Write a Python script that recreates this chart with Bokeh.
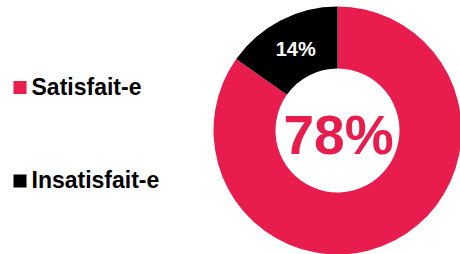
import numpy as np
from bokeh.plotting import figure
from bokeh.models import Range1d, ColumnDataSource
from bokeh.core.properties import value
from bokeh.embed import file_html
from bokeh.resources import INLINE

categories = ["Satisfait-e", "Insatisfait-e"]
values = [78, 14]
colors = ["#E81D4E", "#000000"]
center_label = "78%"

W, H = 460, 254
p = figure(width=W, height=H, output_backend="svg", toolbar_location=None,
           x_range=Range1d(0, W), y_range=Range1d(0, H),
           min_border=0, outline_line_color=None)
p.axis.visible = False
p.grid.visible = False
p.background_fill_color = "white"
p.border_fill_color = "white"

cx, cy = 337, 124
r_in, r_out = 62, 124

vals = np.array(values, dtype=float)
frac = vals / vals.sum()
start_black = np.pi / 2
end_black = start_black + frac[1] * 2 * np.pi
start_pink = end_black
end_pink = np.pi / 2 + 2 * np.pi

src = ColumnDataSource(dict(start=[start_pink, start_black], end=[end_pink, end_black],
                            color=colors))
p.annular_wedge(x=cx, y=cy, inner_radius=r_in, outer_radius=r_out,
                start_angle="start", end_angle="end", color="color",
                line_color=None, source=src)

mid = (start_black + end_black) / 2
rl = (r_in + r_out) / 2
p.text(x=[cx + rl * np.cos(mid) + 1], y=[cy + rl * np.sin(mid) - 1.5], text=[f"{values[1]}%"],
       text_color="white", text_font=value("Liberation Sans"), text_font_style="bold",
       text_font_size="20px", text_align="center", text_baseline="middle")

p.text(x=[cx + 1], y=[cy - 4.5], text=[center_label], text_color=colors[0],
       text_font=value("Liberation Sans"), text_font_style="bold",
       text_font_size="55px", text_align="center", text_baseline="middle")

ly = [254 - 87, 254 - 180.5]
p.scatter(x=[19.5, 19.5], y=ly, marker="square", size=13, color=colors, line_color=None)
p.text(x=[31, 31], y=[y + 1 for y in ly], text=categories, text_color="black",
       text_font=value("Liberation Sans"), text_font_style="bold",
       text_font_size="23px", text_align="left", text_baseline="middle")

open("out.html", "w").write(file_html(p, INLINE))
